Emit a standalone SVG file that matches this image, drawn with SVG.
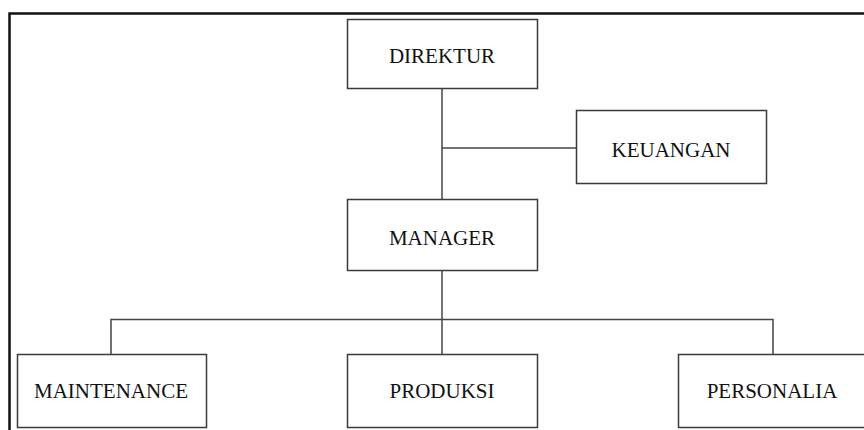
<svg xmlns="http://www.w3.org/2000/svg" width="864" height="430" viewBox="0 0 864 430">
<style>
.box{fill:#fff;stroke:#3a3a3a;stroke-width:1.5}
.lbl{font-family:"Liberation Serif","Times New Roman",serif;font-size:21px;fill:#111;text-anchor:middle}
.con{fill:none;stroke:#444;stroke-width:1.5}
</style>
<rect x="0" y="0" width="864" height="430" fill="#fff"/>
<rect x="9.5" y="13.5" width="860" height="430" fill="none" stroke="#111" stroke-width="2.5"/>
<g id="connectors">
<path class="con" d="M442 88 V199"/>
<path class="con" d="M442 148 H576"/>
<path class="con" d="M442 271 V354"/>
<path class="con" d="M111 354 V319.5 H773 V354"/>
</g>
<g id="direktur"><rect class="box" x="347.5" y="19.5" width="190" height="69"/><text class="lbl" x="442" y="63">DIREKTUR</text></g>
<g id="keuangan"><rect class="box" x="576.5" y="110.5" width="190" height="73"/><text class="lbl" x="671" y="157">KEUANGAN</text></g>
<g id="manager"><rect class="box" x="347.5" y="199.5" width="190" height="71"/><text class="lbl" x="442" y="245">MANAGER</text></g>
<g id="maintenance"><rect class="box" x="17.5" y="354.5" width="189" height="73"/><text class="lbl" x="111" y="398">MAINTENANCE</text></g>
<g id="produksi"><rect class="box" x="347.5" y="354.5" width="190" height="73"/><text class="lbl" x="442" y="398">PRODUKSI</text></g>
<g id="personalia"><rect class="box" x="678.5" y="354.5" width="190" height="73"/><text class="lbl" x="772" y="398">PERSONALIA</text></g>
</svg>
